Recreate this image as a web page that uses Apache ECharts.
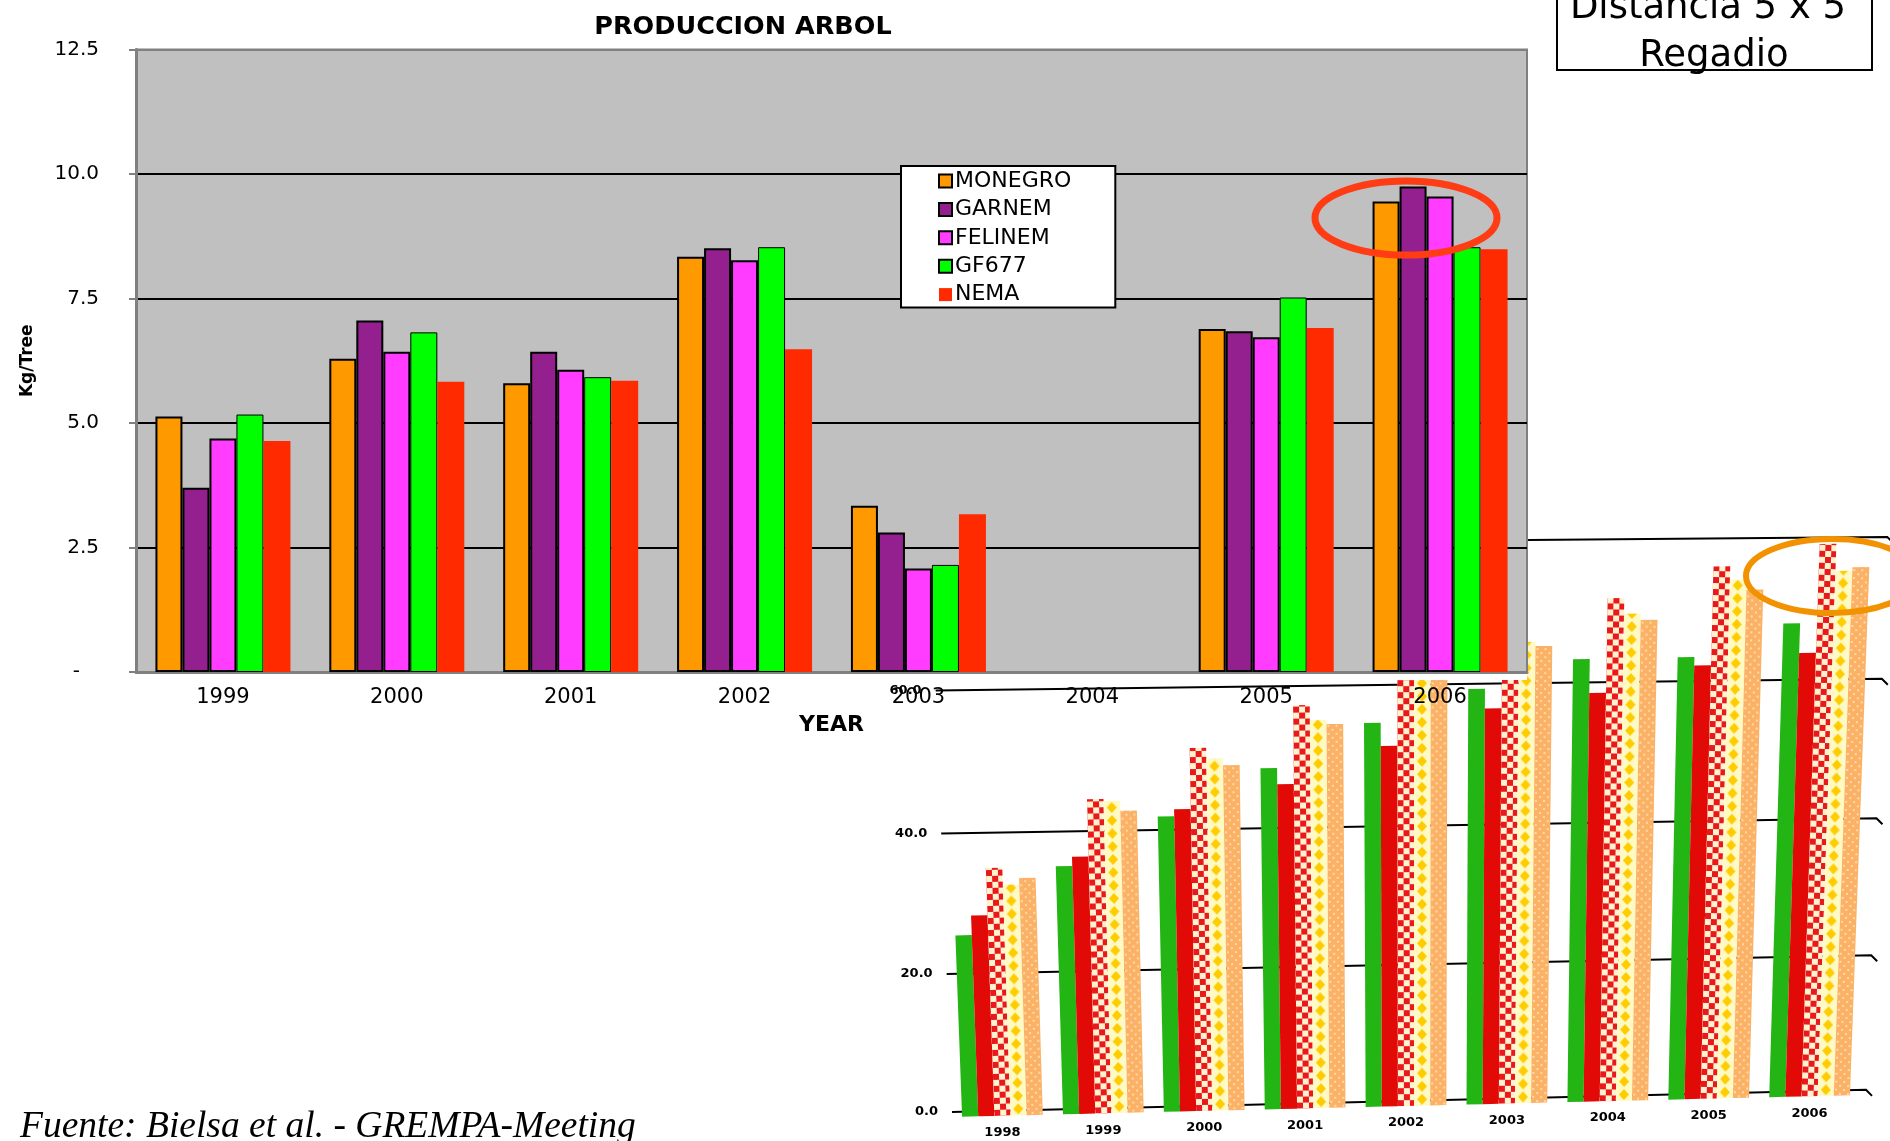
<!DOCTYPE html>
<html>
<head>
<meta charset="utf-8">
<title>Produccion arbol</title>
<style>
html, body { margin: 0; padding: 0; background: #fff; }
#chart { width: 1890px; height: 1141px; }
</style>
<script src="https://cdn.jsdelivr.net/npm/echarts@6/dist/echarts.min.js"></script>
</head>
<body>
<div id="chart"></div>
<script>
// main chart data
var years = ["1999", "2000", "2001", "2002", "2003", "2004", "2005", "2006"];
var monegro = [5.13, 6.29, 5.80, 8.34, 3.34, null, 6.89, 9.45];
var garnem = [3.70, 7.06, 6.43, 8.51, 2.80, null, 6.84, 9.75];
var felinem = [4.69, 6.43, 6.07, 8.27, 2.08, null, 6.72, 9.55];
var gf677 = [5.17, 6.82, 5.92, 8.53, 2.15, null, 7.52, 8.53];
var nema = [4.64, 5.83, 5.85, 6.48, 3.17, null, 6.91, 8.49];
var yTickLabels = ["-   ", "2.5", "5.0", "7.5", "10.0", "12.5"];

// inset chart data (the tilted one, bottom right)
var insetYears = ["1998", "1999", "2000", "2001", "2002", "2003", "2004", "2005", "2006"];
var insetGreen = [25.5, 35.1, 41.9, 48.5, 54.7, 59.3, 63.3, 63.4, 68.0];
var insetRed = [28.3, 36.4, 42.9, 46.2, 51.4, 56.5, 58.5, 62.2, 63.8];
var insetCheck = [35.0, 44.5, 51.5, 57.3, 63.0, 67.0, 71.8, 76.1, 79.1];
var insetYellow = [32.6, 44.2, 50.0, 55.2, 62.0, 65.8, 69.6, 74.2, 75.3];
var insetTan = [33.5, 42.8, 49.0, 54.6, 61.5, 65.2, 68.7, 72.8, 75.8];
var insetTicks = [0, 20, 40, 60, 80];

var font = "DejaVu Sans";

// corners of the tilted inset on the page
var BL = [952, 1112], BR = [1860, 1090], TL = [930, 545], TR = [1881, 537];

function warp(rect, px, py) {
    var u = (px - rect.x) / rect.width;
    var v = (rect.y + rect.height - py) / rect.height;
    var c = v - 0.035 * v * (1 - v); // gridlines get slightly wider going up
    var lx = BL[0] + (TL[0] - BL[0]) * c, ly = BL[1] + (TL[1] - BL[1]) * c;
    var rx = BR[0] + (TR[0] - BR[0]) * c, ry = BR[1] + (TR[1] - BR[1]) * c;
    return [lx + (rx - lx) * u, ly + (ry - ly) * u];
}

function tile(w, h, draw) {
    var c = document.createElement("canvas");
    c.width = w;
    c.height = h;
    draw(c.getContext("2d"));
    return { image: c, repeat: "repeat" };
}

var checkFill = tile(12, 12, function (g) {
    g.fillStyle = "#e8181c";
    g.fillRect(0, 0, 12, 12);
    g.fillStyle = "#fff3cf";
    g.fillRect(0, 0, 6, 6);
    g.fillRect(6, 6, 6, 6);
});
var yellowFill = tile(16, 13, function (g) {
    g.fillStyle = "#fffac4";
    g.fillRect(0, 0, 16, 13);
    g.fillStyle = "#ffcc00";
    g.beginPath();
    g.moveTo(8, 1);
    g.lineTo(13, 6.5);
    g.lineTo(8, 12);
    g.lineTo(3, 6.5);
    g.closePath();
    g.fill();
});
var tanFill = tile(8, 8, function (g) {
    g.fillStyle = "#fbb266";
    g.fillRect(0, 0, 8, 8);
    g.fillStyle = "#ffd9a8";
    g.fillRect(1, 1, 2, 2);
    g.fillRect(5, 5, 2, 2);
});

function insetBar(seriesIndex, fill) {
    return function (params, api) {
        var rect = params.coordSys;
        var p = api.coord([api.value(0), api.value(1)]);
        var base = api.coord([api.value(0), 0]);
        var cat = api.size([1, 0])[0];
        var w = cat * 0.16;
        var x0 = p[0] - cat * 0.4 + w * seriesIndex;
        var a = warp(rect, x0, base[1]), b = warp(rect, x0 + w, base[1]);
        var c = warp(rect, x0 + w, p[1]), d = warp(rect, x0, p[1]);
        a[1] += 5;
        b[1] += 5;
        // rotate the piece so the pattern leans along with the bar
        var r = Math.atan2(-(d[0] - a[0]), -(d[1] - a[1]));
        var pts = [a, b, c, d].map(function (q) {
            var dx = q[0] - a[0], dy = q[1] - a[1];
            return [dx * Math.cos(r) - dy * Math.sin(r), dx * Math.sin(r) + dy * Math.cos(r)];
        });
        return {
            type: "polygon",
            x: a[0],
            y: a[1],
            rotation: r,
            shape: { points: pts },
            style: { fill: fill }
        };
    };
}

function insetSeries(name, values, index, fill) {
    return {
        name: name,
        type: "custom",
        xAxisIndex: 1,
        yAxisIndex: 1,
        z: 0,
        silent: true,
        clip: false,
        renderItem: insetBar(index, fill),
        encode: { x: 0, y: 1 },
        data: values.map(function (v, i) { return [i, v]; })
    };
}

function mainSeries(name, values, color, border) {
    return {
        name: name,
        type: "bar",
        data: values,
        barWidth: 27,
        barGap: "0%",
        z: 4,
        itemStyle: {
            color: color,
            borderColor: "#000",
            borderWidth: border
        }
    };
}

var option = {
    animation: false,
    backgroundColor: "#fff",
    title: {
        text: "PRODUCCION ARBOL",
        left: 738,
        top: 9,
        textAlign: "center",
        textStyle: { fontFamily: font, fontSize: 25.5, fontWeight: "bold", color: "#000" }
    },
    legend: {
        data: ["MONEGRO", "GARNEM", "FELINEM", "GF677", "NEMA"],
        orient: "vertical",
        left: 901,
        top: 166,
        z: 6,
        padding: [4, 44, 2, 37],
        backgroundColor: "#fff",
        borderColor: "#000",
        borderWidth: 2,
        itemWidth: 13,
        itemHeight: 13,
        itemGap: 6.4,
        icon: "rect",
        selectedMode: false,
        textStyle: { fontFamily: font, fontSize: 22, color: "#000", padding: [0, 0, 0, -2] }
    },
    grid: [
        {
            left: 136,
            top: 49.5,
            width: 1391,
            height: 622.5,
            show: true,
            z: 2,
            backgroundColor: "#c0c0c0",
            borderColor: "#808080",
            borderWidth: 2
        },
        // inset, only used to get the scales; warp() tilts what is drawn
        { left: 952, top: 545, width: 908, height: 567, show: false }
    ],
    xAxis: [
        {
            type: "category",
            gridIndex: 0,
            data: years,
            z: 3,
            name: "YEAR",
            nameLocation: "middle",
            nameGap: 42,
            nameTextStyle: { fontFamily: font, fontSize: 22, fontWeight: "bold", color: "#000" },
            axisLine: { lineStyle: { color: "#808080", width: 3 } },
            axisTick: { length: 7, lineStyle: { color: "#808080", width: 3 } },
            axisLabel: { margin: 15, fontFamily: font, fontSize: 21, color: "#000" }
        },
        { type: "category", gridIndex: 1, data: insetYears, show: false }
    ],
    yAxis: [
        {
            type: "value",
            gridIndex: 0,
            min: 0,
            max: 12.5,
            interval: 2.5,
            z: 3,
            name: "Kg/Tree",
            nameLocation: "middle",
            nameGap: 100,
            nameTextStyle: { fontFamily: font, fontSize: 17, fontWeight: "bold", color: "#000" },
            axisLine: { show: true, lineStyle: { color: "#808080", width: 3 } },
            axisTick: { show: true, length: 7, lineStyle: { color: "#808080", width: 2 } },
            axisLabel: {
                margin: 37,
                fontFamily: font,
                fontSize: 20,
                color: "#000",
                formatter: function (v) { return yTickLabels[Math.round(v / 2.5)]; }
            },
            splitLine: {
                show: true,
                lineStyle: { color: ["#808080", "#000", "#000", "#000", "#000", "#808080"], width: 2 }
            }
        },
        { type: "value", gridIndex: 1, min: 0, max: 80, show: false, splitLine: { show: false } }
    ],
    series: [
        mainSeries("MONEGRO", monegro, "#ff9900", 2),
        mainSeries("GARNEM", garnem, "#93208e", 2),
        mainSeries("FELINEM", felinem, "#ff3cff", 2),
        mainSeries("GF677", gf677, "#00ff00", 1),
        mainSeries("NEMA", nema, "#ff2a00", 0),
        {
            // inset gridlines and their labels
            name: "insetGrid",
            type: "custom",
            xAxisIndex: 1,
            yAxisIndex: 1,
            z: 0,
            silent: true,
            clip: false,
            encode: { y: 0 },
            data: insetTicks.map(function (v) { return [v]; }),
            renderItem: function (params, api) {
                var rect = params.coordSys;
                var y = api.coord([0, api.value(0)])[1];
                var a = warp(rect, rect.x, y), b = warp(rect, rect.x + rect.width + 6, y);
                return {
                    type: "group",
                    children: [
                        {
                            type: "polyline",
                            shape: { points: [a, b, [b[0] + 6, b[1] + 6]] },
                            style: { stroke: "#000", lineWidth: 2, fill: null }
                        },
                        {
                            type: "text",
                            style: {
                                text: api.value(0).toFixed(1),
                                x: a[0] - 14,
                                y: a[1],
                                align: "right",
                                verticalAlign: "middle",
                                fill: "#000",
                                font: "bold 13px 'DejaVu Sans'"
                            }
                        }
                    ]
                };
            }
        },
        insetSeries("Verde", insetGreen, 0, "#22b514"),
        insetSeries("Rojo", insetRed, 1, "#e20a06"),
        insetSeries("Cuadros", insetCheck, 2, checkFill),
        insetSeries("Amarillo", insetYellow, 3, yellowFill),
        insetSeries("Naranja", insetTan, 4, tanFill),
        {
            // inset year labels
            name: "insetYears",
            type: "custom",
            xAxisIndex: 1,
            yAxisIndex: 1,
            z: 0,
            silent: true,
            clip: false,
            encode: { x: 0 },
            data: insetYears.map(function (y, i) { return [i]; }),
            renderItem: function (params, api) {
                var p = api.coord([api.value(0), 0]);
                var q = warp(params.coordSys, p[0], p[1]);
                return {
                    type: "text",
                    style: {
                        text: insetYears[api.value(0)],
                        x: q[0],
                        y: q[1] + 22,
                        align: "center",
                        verticalAlign: "middle",
                        fill: "#000",
                        font: "bold 13px 'DejaVu Sans'"
                    }
                };
            }
        }
    ],
    graphic: [
        // main chart sits on a white sheet that hides the top of the inset
        { type: "rect", z: 1, shape: { x: 0, y: 0, width: 1527, height: 680 }, style: { fill: "#fff" } },
        {
            type: "ellipse",
            z: 8,
            shape: { cx: 1406, cy: 218, rx: 91, ry: 37 },
            style: { fill: null, stroke: "#ff3c14", lineWidth: 7 }
        },
        {
            type: "ellipse",
            z: 8,
            shape: { cx: 1832, cy: 576, rx: 86, ry: 37 },
            style: { fill: null, stroke: "#f39200", lineWidth: 6 }
        },
        {
            type: "rect",
            z: 7,
            shape: { x: 1557, y: -10, width: 315, height: 80 },
            style: { fill: "#fff", stroke: "#000", lineWidth: 2 }
        },
        {
            type: "text",
            z: 9,
            style: {
                text: "Distancia 5 x 5",
                x: 1708,
                y: 8,
                align: "center",
                verticalAlign: "middle",
                fill: "#000",
                font: "37px 'DejaVu Sans'"
            }
        },
        {
            type: "text",
            z: 9,
            style: {
                text: "Regadio",
                x: 1714,
                y: 56,
                align: "center",
                verticalAlign: "middle",
                fill: "#000",
                font: "37px 'DejaVu Sans'"
            }
        },
        {
            type: "text",
            z: 9,
            style: {
                text: "Fuente: Bielsa et al. - GREMPA-Meeting",
                x: 20,
                y: 1127,
                verticalAlign: "middle",
                fill: "#000",
                font: "italic 37.5px 'Liberation Serif'"
            }
        }
    ]
};

var chart = echarts.init(document.getElementById("chart"));
chart.setOption(option);
</script>
</body>
</html>
